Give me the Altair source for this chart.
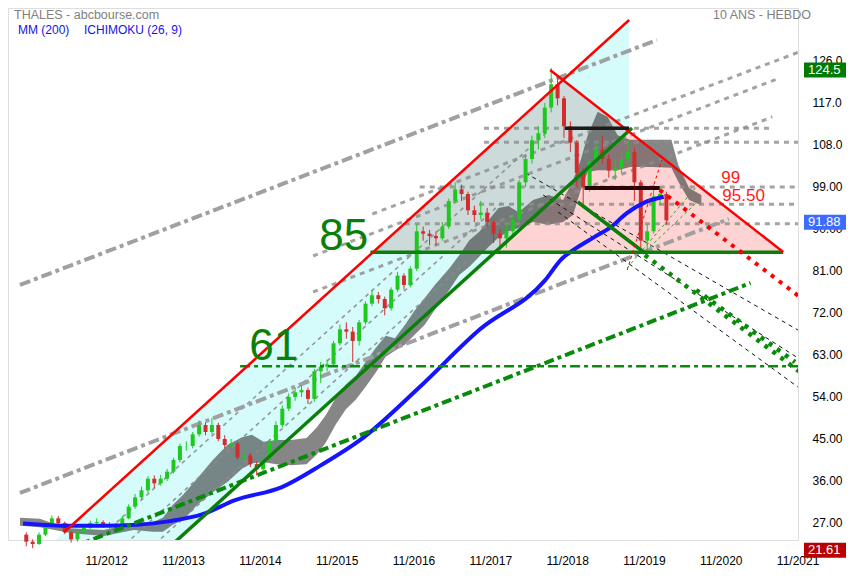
import altair as alt
import pandas as pd

# ---------------- price data (monthly candles, Oct 2011 -> Feb 2020) ----------------
START_YEAR, START_MONTH = 2011, 10
close_ = [23.0, 22.5, 24.5, 26.5, 28.0, 27.0, 25.0, 23.5, 25.0, 26.0, 27.0, 27.2, 26.5, 26.5, 26.0,
          28.0, 30.5, 32.5, 34.0, 36.5, 35.5, 36.5, 38.0, 40.5, 43.5, 43.5, 46.0, 48.0, 46.5, 48.0,
          45.0, 43.7, 44.0, 41.0, 41.5, 39.6, 38.5, 40.5, 44.5, 48.0, 51.5, 54.0, 55.0, 55.5, 53.6,
          59.5, 60.5, 61.0, 65.5, 68.5, 68.0, 66.0, 70.0, 74.0, 75.8, 75.0, 73.0, 77.0, 80.0, 78.0,
          81.5, 89.5, 89.0, 88.5, 88.0, 90.5, 96.0, 98.5, 97.5, 94.0, 93.0, 93.5, 91.5, 89.0, 88.0,
          89.5, 92.0, 100.0, 105.0, 109.0, 110.5, 116.0, 121.0, 118.0, 112.0, 108.5, 102.0, 99.0, 104.5, 107.0,
          105.0, 102.5, 103.0, 105.0, 106.5, 100.0, 87.5, 89.5, 97.0, 97.5, 91.88]
open_ = [24.5, 23.0, 22.5, 24.5, 26.5, 28.0, 27.0, 25.0, 23.5, 25.0, 26.0, 27.0, 27.2, 26.5, 26.5,
         26.0, 28.0, 30.5, 32.5, 34.0, 36.5, 35.5, 36.5, 38.0, 40.5, 43.5, 43.5, 46.0, 48.0, 46.5,
         48.0, 45.0, 43.7, 44.0, 41.0, 41.5, 39.6, 38.5, 40.5, 44.5, 48.0, 51.5, 54.0, 55.0, 55.5,
         53.6, 59.5, 60.5, 61.0, 65.5, 68.5, 68.0, 66.0, 70.0, 74.0, 75.8, 75.0, 73.0, 77.0, 80.0,
         78.0, 81.5, 89.5, 89.0, 88.5, 88.0, 90.5, 96.0, 98.5, 97.5, 94.0, 93.0, 93.5, 91.5, 89.0,
         88.0, 89.5, 92.0, 100.0, 105.0, 109.0, 110.5, 116.0, 121.0, 118.0, 112.0, 108.5, 102.0, 99.0, 104.5,
         107.0, 105.0, 102.5, 103.0, 105.0, 106.5, 100.0, 87.5, 89.5, 97.0, 97.5]
high_ = [25.0, 23.5, 25.0, 27.0, 28.6, 28.5, 27.3, 25.3, 25.5, 26.5, 27.5, 28.0, 27.6, 27.2, 27.0,
         28.5, 31.0, 33.2, 34.8, 37.0, 37.2, 37.3, 38.6, 41.0, 44.0, 44.5, 46.5, 49.0, 48.6, 49.5,
         48.5, 45.8, 45.0, 44.4, 42.5, 42.0, 40.2, 41.0, 45.0, 48.8, 52.2, 54.8, 56.0, 56.5, 56.0,
         60.0, 61.5, 62.0, 66.0, 69.5, 70.0, 69.0, 70.5, 74.5, 77.0, 76.5, 75.5, 77.5, 80.8, 80.5,
         82.0, 91.0, 90.5, 89.8, 89.5, 91.5, 96.5, 100.0, 99.5, 98.0, 95.0, 96.0, 94.5, 92.0, 90.0,
         91.0, 93.0, 100.5, 106.0, 110.0, 112.0, 117.0, 124.5, 122.5, 118.5, 113.0, 109.0, 103.0, 105.0, 108.5,
         110.0, 106.0, 105.0, 106.5, 109.0, 107.5, 100.5, 91.0, 99.5, 99.0, 98.0]
low_ = [22.0, 21.61, 22.3, 24.2, 26.2, 26.5, 24.6, 22.8, 23.0, 24.6, 25.7, 26.5, 26.0, 25.8, 25.5,
        25.8, 27.8, 30.0, 32.0, 33.5, 34.5, 35.0, 36.0, 37.6, 40.0, 42.5, 43.0, 45.5, 45.8, 46.0,
        44.5, 43.0, 43.0, 40.5, 40.2, 39.0, 37.2, 38.0, 40.0, 44.0, 47.5, 51.0, 53.2, 54.0, 52.5,
        53.0, 57.0, 59.5, 60.5, 65.0, 66.5, 61.5, 65.0, 69.5, 73.5, 74.0, 71.5, 72.5, 76.5, 77.0,
        77.5, 81.0, 87.5, 86.5, 86.5, 87.5, 90.0, 95.5, 96.0, 93.0, 91.5, 92.0, 90.5, 87.0, 85.5,
        86.0, 88.5, 91.5, 99.0, 104.0, 107.0, 109.5, 115.0, 116.5, 109.5, 106.5, 99.0, 95.5, 98.0, 103.0,
        104.0, 101.0, 100.5, 102.0, 104.0, 96.0, 85.5, 85.0, 89.0, 95.0, 91.0]

# ---------------- moving average MM(200) ----------------
ma_t = [2011.75, 2012.38, 2012.80, 2013.23, 2013.66, 2014.09, 2014.51, 2015.12, 2015.63, 2016.14,
        2016.91, 2017.69, 2018.55, 2018.75, 2018.97, 2019.19, 2019.40, 2019.61, 2019.83, 2020.09]
ma_v = [26.9, 26.4, 26.4, 26.6, 27.4, 28.9, 31.9, 34.7, 39.4, 44.8,
        56.1, 68.4, 79.1, 83.4, 86.1, 88.3, 90.4, 93.4, 95.6, 96.9]

# ---------------- Ichimoku cloud (span A / span B) ----------------
cloud_t = [2011.71, 2011.97, 2012.16, 2012.35, 2012.54, 2012.80, 2013.19, 2013.44, 2013.57, 2013.70,
           2013.83, 2014.02, 2014.22, 2014.41, 2014.60, 2014.73, 2014.88, 2015.05, 2015.24, 2015.44,
           2015.57, 2015.69, 2015.82, 2015.95, 2016.08, 2016.21, 2016.34, 2016.47, 2016.59, 2016.72,
           2016.85, 2016.98, 2017.11, 2017.30, 2017.43, 2017.56, 2017.69, 2017.81, 2017.94, 2018.07,
           2018.20, 2018.39, 2018.59, 2018.78, 2018.91, 2019.01, 2019.10, 2019.23, 2019.36, 2019.49,
           2019.65, 2019.94, 2020.19, 2020.28, 2020.42, 2020.58]
cloud_a = [28.1, 27.9, 26.8, 25.9, 25.7, 25.5, 27.0, 27.2, 28.1, 30.9,
           33.0, 36.6, 40.5, 43.7, 45.4, 45.9, 44.4, 44.8, 44.8, 45.2,
           47.4, 50.1, 53.8, 56.6, 58.5, 61.5, 64.5, 67.1, 66.6, 69.4,
           72.6, 75.2, 78.0, 81.6, 84.4, 87.6, 89.4, 91.9, 94.5, 94.9,
           93.6, 96.2, 97.3, 96.2, 100.5, 104.8, 110.1, 115.1, 114.0, 110.1,
           109.1, 109.1, 109.1, 103.7, 98.8, 97.3]
cloud_b = [26.4, 26.1, 25.5, 24.9, 24.6, 24.2, 25.5, 25.1, 25.1, 26.6,
           27.6, 30.9, 33.6, 35.8, 38.6, 39.8, 40.0, 39.6, 39.4, 39.6,
           41.6, 44.2, 48.1, 51.3, 53.4, 56.2, 59.2, 62.6, 63.9, 65.2,
           67.4, 69.5, 72.7, 77.0, 80.2, 81.9, 84.1, 86.2, 88.2, 89.5,
           90.2, 91.5, 90.9, 91.5, 93.0, 98.4, 102.2, 102.6, 102.6, 102.6,
           103.3, 103.3, 103.1, 100.1, 96.2, 95.1]

# ---------------- drawn lines: (style, t1, v1, t2, v2) ----------------
line_style = ["red", "red", "reddot", "redthin",
              "green", "green", "green", "greendot", "greendot", "greendashdot", "greendashdot2",
              "greenthin", "greenthin",
              "greydashdot", "greydashdot",
              "greydash", "greydash", "greydash", "greydash", "greydash",
              "greydash", "greydash", "greydash",
              "greythin", "greythin", "greythin",
              "blackdash", "blackdash", "blackdash",
              "black", "darkred"]
line_t1 = [2012.287, 2018.611, 2020.038, 2019.614,
           2013.470, 2016.272, 2018.971, 2019.845, 2020.513, 2012.133, 2014.575,
           2019.614, 2019.909,
           2011.709, 2011.709,
           2017.750, 2017.750, 2016.914, 2017.686, 2016.720,
           2016.297, 2015.526, 2015.526,
           2012.429, 2012.853, 2013.238,
           2018.290, 2018.521, 2018.714,
           2018.804, 2019.061]
line_v1 = [25.07, 124.07, 98.35, 81.2,
           19.07, 85.0, 95.78, 84.42, 76.93, 20.14, 60.6,
           81.64, 86.14,
           78.0, 33.43,
           111.6, 108.6, 99.0, 95.3, 91.1,
           93.21, 84.21, 76.50,
           19.07, 19.07, 19.07,
           102.0, 97.28, 93.64,
           111.6, 98.8]
line_t2 = [2019.640, 2021.645, 2021.863, 2020.064,
           2019.678, 2021.645, 2019.845, 2021.863, 2021.799, 2021.220, 2021.863,
           2020.513, 2020.513,
           2020.000, 2020.938,
           2021.478, 2021.863, 2021.863, 2021.863, 2021.863,
           2021.850, 2021.567, 2021.503,
           2018.598, 2018.020, 2017.544,
           2021.837, 2021.837, 2021.837,
           2019.640, 2020.038]
line_v2 = [134.78, 85.07, 75.43, 104.8,
           111.64, 85.0, 84.85, 59.36, 61.5, 78.43, 60.6,
           99.0, 95.57,
           130.5, 92.14,
           111.6, 108.6, 99.0, 95.3, 91.1,
           127.92, 122.14, 114.0,
           111.21, 96.21, 83.35,
           68.35, 62.36, 56.14,
           111.6, 98.8]

# right-axis value boxes
box_v = [124.5, 91.88, 21.61]
box_label = ["124.5", "91.88", "21.61"]
box_color = ["#007a00", "#3d6bff", "#b80000"]

# text annotations
ann_t = [2015.925, 2015.012, 2020.963, 2021.13]
ann_v = [88.3, 64.7, 100.9, 97.1]
ann_text = ["85", "61", "99", "95.50"]
ann_color = ["#0a7f0a", "#0a7f0a", "#ff1a1a", "#ff1a1a"]
ann_size = [44, 44, 17, 17]

# ---------------- layout ----------------
W, H = 790, 532
X_DOM = [2011.619, 2021.773]
Y_DOM = [23.357, 137.35]
FONT = "Liberation Sans"

xs = alt.Scale(domain=X_DOM, nice=False, zero=False)
ys = alt.Scale(domain=Y_DOM, nice=False, zero=False)
x_axis = alt.Axis(values=[2012.833 + k for k in range(10)], labelExpr="'11/' + floor(datum.value)",
                  ticks=False, domain=False, grid=False, title=None, labelFontSize=12,
                  labelColor="black", labelFont=FONT, labelPadding=15, labelFlush=False)
y_axis = alt.Axis(orient="right", values=[27, 36, 45, 54, 63, 72, 81, 90, 99, 108, 117, 126],
                  labelExpr="format(datum.value, '.4g')", ticks=False, domain=False, grid=False,
                  title=None, labelFontSize=12, labelColor="black", labelFont=FONT, labelPadding=14)


def X(f):
    return alt.X(f, type="quantitative", scale=xs, axis=x_axis)


def Y(f):
    return alt.Y(f, type="quantitative", scale=ys, axis=y_axis)


def Y2(f):
    return alt.Y2(f)


# ---------------- derived geometry for fills ----------------
def slope(i):
    return (line_v2[i] - line_v1[i]) / (line_t2[i] - line_t1[i])


def line_at(i, t):
    return line_v1[i] + slope(i) * (t - line_t1[i])


def t_at(i, v):
    return line_t1[i] + (v - line_v1[i]) / slope(i)


def cross(i, j):
    si, sj = slope(i), slope(j)
    return (line_v1[j] - sj * line_t1[j] - line_v1[i] + si * line_t1[i]) / (si - sj)


RED_UP, RED_DN, GR_UP, BASE = 0, 1, 4, 85.0
bottom = Y_DOM[0]
t_rb = t_at(RED_UP, bottom)
t_gb = t_at(GR_UP, bottom)
cyan = pd.DataFrame({
    "t": [t_rb, t_gb, line_t2[RED_UP]],
    "top": [bottom, line_at(RED_UP, t_gb), line_v2[RED_UP]],
    "bot": [bottom, bottom, line_at(GR_UP, line_t2[RED_UP])],
})
t_peak = cross(RED_UP, RED_DN)
grey = pd.DataFrame({
    "t": [t_at(RED_UP, BASE), t_peak, line_t2[RED_DN]],
    "top": [BASE, line_at(RED_UP, t_peak), BASE],
    "bot": [BASE, BASE, BASE],
})
t_gx = cross(GR_UP, RED_DN)
pink = pd.DataFrame({
    "t": [t_at(GR_UP, BASE), t_gx, line_t2[RED_DN]],
    "top": [BASE, line_at(GR_UP, t_gx), BASE],
    "bot": [BASE, BASE, BASE],
})

n = len(close_)
candles = pd.DataFrame({
    "t": [START_YEAR + (START_MONTH - 1 + i + 0.5) / 12 for i in range(n)],
    "open": open_, "high": high_, "low": low_, "close": close_,
})
candles["col"] = ["#1ec81e" if c >= o else "#d22d2d" for o, c in zip(open_, close_)]

ma = pd.DataFrame({"t": ma_t, "v": ma_v})
cloud = pd.DataFrame({"t": cloud_t, "a": cloud_a, "b": cloud_b})

rows = []
for k in range(len(line_style)):
    rows.append({"id": k, "style": line_style[k], "t": line_t1[k], "v": line_v1[k], "o": 0})
    rows.append({"id": k, "style": line_style[k], "t": line_t2[k], "v": line_v2[k], "o": 1})
lines = pd.DataFrame(rows)

styles = {
    "greydash": dict(color="#8c8c8c", strokeWidth=3, strokeDash=[5, 5], opacity=0.8),
    "greythin": dict(color="#8c8c8c", strokeWidth=1.6, strokeDash=[4, 4], opacity=0.9),
    "greydashdot": dict(color="#a0a0a0", strokeWidth=4, strokeDash=[11, 4, 4, 4]),
    "blackdash": dict(color="#111111", strokeWidth=1, strokeDash=[4, 4]),
    "greendashdot": dict(color="#0a8a0a", strokeWidth=4, strokeDash=[10, 4, 4, 4]),
    "greendashdot2": dict(color="#0a8a0a", strokeWidth=2.5, strokeDash=[10, 4, 4, 4]),
    "greendot": dict(color="#0a8a0a", strokeWidth=4.5, strokeDash=[4, 6]),
    "greenthin": dict(color="#2aa82a", strokeWidth=1, strokeDash=[3, 3]),
    "green": dict(color="#0a800a", strokeWidth=3.5),
    "reddot": dict(color="#ff0000", strokeWidth=4, strokeDash=[4, 6]),
    "redthin": dict(color="#ff0000", strokeWidth=1, strokeDash=[3, 3]),
    "red": dict(color="#ff0000", strokeWidth=2.5),
    "black": dict(color="#1a1a1a", strokeWidth=3.5),
    "darkred": dict(color="#2a0505", strokeWidth=4),
}


def line_layer(style):
    d = lines[lines["style"] == style]
    return alt.Chart(d).mark_line(clip=True, **styles[style]).encode(
        x=X("t"), y=Y("v"), detail="id:N", order="o:Q")


layers = []
layers.append(alt.Chart(cyan).mark_area(color="#d6fbfb", opacity=1).encode(x=X("t"), y=Y("top"), y2=Y2("bot")))
layers.append(alt.Chart(grey).mark_area(color="#c4c4c4", opacity=0.6).encode(x=X("t"), y=Y("top"), y2=Y2("bot")))
layers.append(alt.Chart(pink).mark_area(color="#fdd3d3", opacity=1).encode(x=X("t"), y=Y("top"), y2=Y2("bot")))
layers.append(alt.Chart(cloud).mark_area(color="#3c3c3c", opacity=0.62, interpolate="linear").encode(
    x=X("t"), y=Y("a"), y2=Y2("b")))
for s in ["greythin", "greydash", "greydashdot", "blackdash"]:
    layers.append(line_layer(s))
layers.append(alt.Chart(candles).mark_rule(strokeWidth=1).encode(
    x=X("t"), y=Y("low"), y2=Y2("high"), color=alt.Color("col:N", scale=None)))
layers.append(alt.Chart(candles).mark_bar(size=4).encode(
    x=X("t"), y=Y("open"), y2=Y2("close"), color=alt.Color("col:N", scale=None)))
layers.append(alt.Chart(ma).mark_line(color="#1414ff", strokeWidth=4, interpolate="monotone").encode(
    x=X("t"), y=Y("v")))
for s in ["greendashdot", "greendashdot2", "greendot", "greenthin", "green", "reddot", "redthin", "red",
          "black", "darkred"]:
    layers.append(line_layer(s))

ann = pd.DataFrame({"t": ann_t, "v": ann_v, "txt": ann_text, "col": ann_color, "sz": ann_size})
layers.append(alt.Chart(ann).mark_text(font=FONT, align="center", baseline="middle").encode(
    x=X("t"), y=Y("v"), text="txt:N", color=alt.Color("col:N", scale=None),
    size=alt.Size("sz:Q", scale=None, legend=None)))

boxes = pd.DataFrame({"v": box_v, "txt": box_label, "col": box_color})
layers.append(alt.Chart(boxes).mark_point(
    shape="M-1.4,-0.5L1.4,-0.5L1.4,0.5L-1.4,0.5Z", filled=True, size=900, opacity=1,
    yOffset=2).encode(
    x=alt.value(W + 27), y=Y("v"), color=alt.Color("col:N", scale=None)))
layers.append(alt.Chart(boxes).mark_text(font=FONT, fontSize=13, color="white", align="left",
                                         yOffset=2).encode(
    x=alt.value(W + 10), y=Y("v"), text="txt:N"))

hdr = pd.DataFrame({
    "txt": ["THALES - abcbourse.com", "MM (200)", "ICHIMOKU (26, 9)", "10 ANS - HEBDO"],
    "px": [6, 10, 76, 705], "py": [7, 22, 22, 7],
    "col": ["#808080", "#1414e6", "#1414e6", "#808080"], "sz": [12.5, 12, 12, 12.5]})
for i in range(len(hdr)):
    r = hdr.iloc[i]
    layers.append(alt.Chart(hdr.iloc[[i]]).mark_text(
        font=FONT, align="left", baseline="middle", fontSize=float(r["sz"]), color=r["col"]).encode(
        x=alt.value(float(r["px"])), y=alt.value(float(r["py"])), text="txt:N"))

chart = alt.layer(*layers).properties(
    width=W, height=H,
    autosize=alt.AutoSizeParams(type="none"),
    padding={"left": 0, "top": 0, "right": 49, "bottom": 28},
).configure_view(stroke=None).configure(background="white")

chart.save("out.html", embed_options={"renderer": "svg", "actions": False})
